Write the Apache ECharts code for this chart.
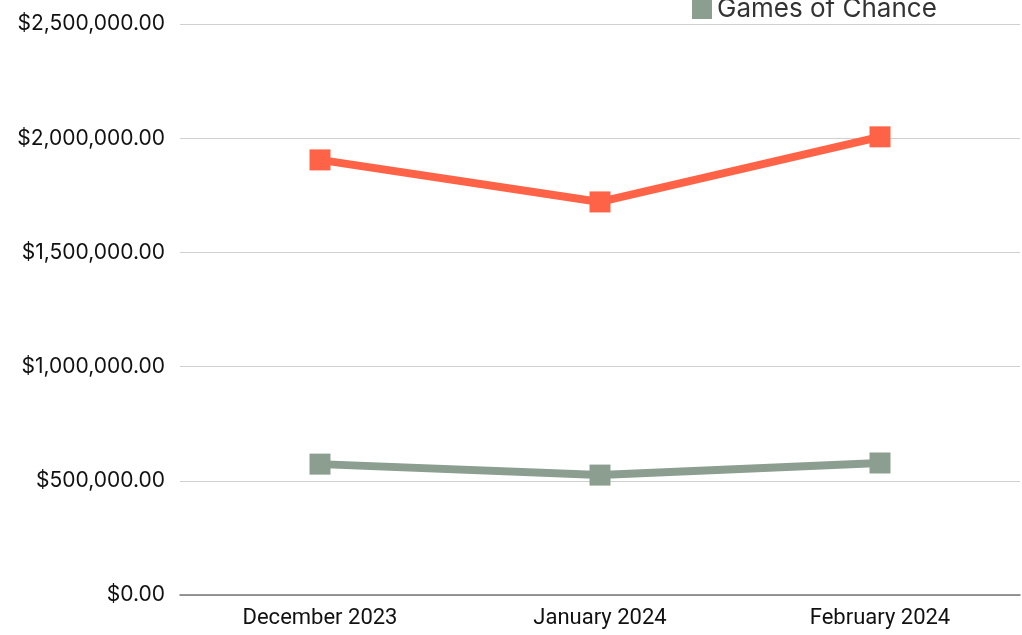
<!DOCTYPE html>
<html><head><meta charset="utf-8">
<script src="https://cdn.jsdelivr.net/npm/echarts@6/dist/echarts.min.js"></script>
<style>html,body{margin:0;padding:0;background:#fff}#c{width:1022px;height:635px}</style>
</head><body><div id="c"></div>
<script>
const categories = ['December 2023', 'January 2024', 'February 2024'];
const seriesNames = ['Sports Wagering', 'Games of Chance'];
const sportsValues = [1905000, 1721000, 2006000];
const chanceValues = [573000, 525000, 578000];
const yTicks = [0, 500000, 1000000, 1500000, 2000000, 2500000];

const chart = echarts.init(document.getElementById('c'), null, {renderer: 'canvas'});
chart.setOption({
  animation: false,
  backgroundColor: '#fff',
  grid: {left: 180, right: 2, top: 24, bottom: 40},
  legend: {
    orient: 'vertical', left: 687, top: -43, itemGap: 8,
    itemWidth: 20, itemHeight: 20, icon: 'rect',
    textStyle: {fontFamily: 'Inter', fontSize: 26, color: '#333'},
    data: seriesNames
  },
  xAxis: {
    type: 'category', data: categories, boundaryGap: true,
    axisLine: {lineStyle: {color: '#777', width: 1.5}},
    axisTick: {show: false},
    axisLabel: {fontFamily: 'Liberation Sans Narrow, Roboto', fontSize: 22, color: '#111', margin: 12}
  },
  yAxis: {
    type: 'value', min: yTicks[0], max: yTicks[yTicks.length - 1], interval: 500000,
    axisLine: {show: false}, axisTick: {show: false},
    splitLine: {lineStyle: {color: '#d0d0d0', width: 1}},
    axisLabel: {
      fontFamily: 'Inter', fontSize: 21, color: '#111', margin: 15,
      formatter: v => '$' + v.toLocaleString('en-US', {minimumFractionDigits: 2, maximumFractionDigits: 2})
    }
  },
  series: [
    {name: seriesNames[0], type: 'line', data: sportsValues, symbol: 'rect', symbolSize: 21,
     lineStyle: {width: 8, color: '#FF6347'}, itemStyle: {color: '#FF6347'}},
    {name: seriesNames[1], type: 'line', data: chanceValues, symbol: 'rect', symbolSize: 21,
     lineStyle: {width: 8, color: '#8C9E90'}, itemStyle: {color: '#8C9E90'}}
  ]
});
</script></body></html>
